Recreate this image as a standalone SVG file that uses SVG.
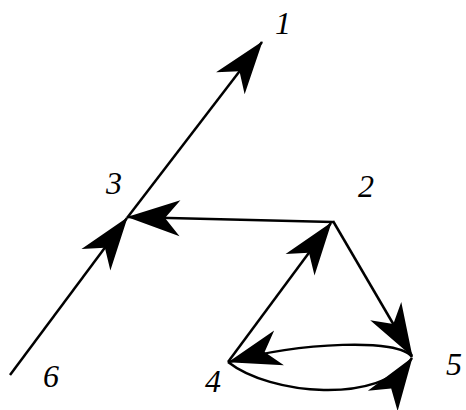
<svg xmlns="http://www.w3.org/2000/svg" width="466" height="410" viewBox="0 0 466 410">
<style>
.lbl{font-family:'Liberation Serif','Times New Roman',serif;font-style:italic;font-size:32px;fill:#000}
.edge{fill:none;stroke:#000;stroke-width:2.5}
</style>
<defs>
<marker id="ah" markerUnits="userSpaceOnUse" markerWidth="60" markerHeight="40" viewBox="-54 -20 58 40" refX="0" refY="0" orient="auto" overflow="visible">
<path d="M1,0 L-52,-18 L-37,0 L-52,18 Z" fill="#000"/>
</marker>
</defs>
<rect width="466" height="410" fill="#fff"/>
<g id="connectors">
<line class="edge" x1="10" y1="375" x2="127" y2="218" marker-end="url(#ah)"/>
<line class="edge" x1="127" y1="218" x2="262" y2="42" marker-end="url(#ah)"/>
<line class="edge" x1="333" y1="222" x2="128" y2="217" marker-end="url(#ah)"/>
<line class="edge" x1="228" y1="362" x2="331" y2="223" marker-end="url(#ah)"/>
<line class="edge" x1="333" y1="221" x2="412" y2="356" marker-end="url(#ah)"/>
<path class="edge" d="M412,357 C400,338 300,342 229,362" marker-end="url(#ah)"/>
<path class="edge" d="M228,362 C270,395 380,405 412,358" marker-end="url(#ah)"/>
</g>
<g id="node1"><text class="lbl" x="275" y="34">1</text></g>
<g id="node2"><text class="lbl" x="358" y="197">2</text></g>
<g id="node3"><text class="lbl" x="106" y="194">3</text></g>
<g id="node4"><text class="lbl" x="205" y="392">4</text></g>
<g id="node5"><text class="lbl" x="446" y="375">5</text></g>
<g id="node6"><text class="lbl" x="43" y="387">6</text></g>
</svg>
